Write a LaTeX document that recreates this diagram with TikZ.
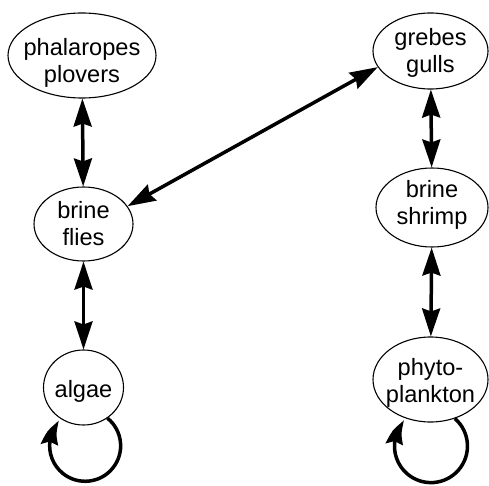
\documentclass[tikz,border=0pt]{standalone}
\usepackage{fontspec}
\setmainfont{Liberation Sans}
\usetikzlibrary{shapes.geometric,arrows.meta,bending}
\begin{document}
\begin{tikzpicture}[x=1pt,y=1pt,
  el/.style={draw, ellipse, line width=1.1pt, inner sep=0pt},
  lbl/.style={align=center, inner sep=0pt, font=\fontsize{23.6}{27}\selectfont},
  biarrow/.style={line width=3.5pt,
    {Stealth[length=28pt,width=18pt,inset=3pt]}-{Stealth[length=28pt,width=18pt,inset=3pt]}},
  looparrow/.style={line width=3.5pt, -{Stealth[length=26pt,width=17pt,inset=3pt,bend]}}]
\useasboundingbox (0,0) rectangle (489,485);

% nodes (ellipses)
\node[el, minimum width=148pt, minimum height=85pt] (pp) at (82,429.5) {};
\node[lbl] (pptxt) at (82,422) {phalaropes\\plovers};

\node[el, minimum width=115pt, minimum height=76pt] (gg) at (430.5,434) {};
\node[lbl] (ggtxt) at (430.5,432.5) {grebes\\gulls};

\node[el, minimum width=99pt, minimum height=74pt] (bf) at (83.5,261) {};
\node[lbl] (bftxt) at (83.5,261.5) {brine\\flies};

\node[el, minimum width=112pt, minimum height=79pt] (bs) at (432,277.5) {};
\node[lbl] (bstxt) at (432,280) {brine\\shrimp};

\node[el, minimum width=80pt, minimum height=75pt] (al) at (83.5,97.5) {};
\node[lbl] (altxt) at (83.5,94) {algae};

\node[el, minimum width=115pt, minimum height=85pt] (ph) at (430.5,105.5) {};
\node[lbl] (phtxt) at (430.5,102.5) {phyto-\\plankton};

% connectors
\draw[biarrow] (pp) -- (bf);
\draw[biarrow] (bf) -- (al);
\draw[biarrow] (gg) -- (bs);
\draw[biarrow] (bs) -- (ph);
\draw[biarrow] (bf.22) -- (gg.197);

% self loops
\draw[looparrow] (al.-52.5) arc[start angle=51, end angle=-224, radius=35.5];
\draw[looparrow] (ph.-58) arc[start angle=49, end angle=-224, radius=36.5];
\end{tikzpicture}
\end{document}
